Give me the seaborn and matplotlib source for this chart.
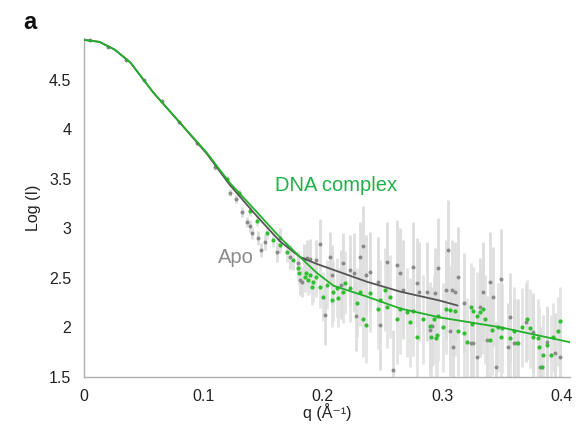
import numpy as np
import pandas as pd
import seaborn as sns
import matplotlib
matplotlib.use("Agg")
import matplotlib.pyplot as plt
from matplotlib.ticker import MultipleLocator, FormatStrFormatter

# smooth fit curves
apo_fit_q = [0.0, 0.013, 0.026, 0.039, 0.058, 0.080, 0.103, 0.122, 0.142, 0.164, 0.181,
             0.195, 0.209, 0.237, 0.265, 0.298, 0.313]
apo_fit_logI = [4.90, 4.88, 4.80, 4.67, 4.37, 4.07, 3.75, 3.44, 3.16, 2.87, 2.71,
                2.64, 2.58, 2.46, 2.36, 2.27, 2.22]

dna_fit_q = [0.0, 0.013, 0.026, 0.039, 0.058, 0.080, 0.103, 0.122, 0.142, 0.164, 0.181,
             0.195, 0.209, 0.237, 0.265, 0.298, 0.349, 0.407]
dna_fit_logI = [4.90, 4.88, 4.80, 4.67, 4.37, 4.07, 3.76, 3.46, 3.20, 2.91, 2.71,
                2.55, 2.42, 2.31, 2.19, 2.10, 2.00, 1.85]

# Apo data points (q, log I, error)
apo_q = [0.005, 0.02, 0.035, 0.05, 0.065, 0.08, 0.095, 0.11, 0.122, 0.127, 0.132, 0.137,
         0.139, 0.141, 0.146, 0.148, 0.152, 0.162, 0.164, 0.173, 0.179, 0.181, 0.183, 0.184,
         0.187, 0.189, 0.194, 0.198, 0.202, 0.206, 0.208, 0.215, 0.217, 0.223, 0.226, 0.228,
         0.231, 0.234, 0.236, 0.240, 0.246, 0.248, 0.254, 0.259, 0.262, 0.265, 0.267, 0.276,
         0.279, 0.281, 0.287, 0.290, 0.292, 0.294, 0.297, 0.303, 0.305, 0.307, 0.308, 0.309,
         0.311, 0.313, 0.318, 0.324, 0.326, 0.329, 0.332, 0.334, 0.338, 0.340, 0.343, 0.345,
         0.349, 0.355, 0.357, 0.360, 0.364, 0.370, 0.376, 0.382, 0.388, 0.395, 0.399]
apo_logI = [4.90, 4.83, 4.70, 4.50, 4.28, 4.07, 3.86, 3.62, 3.36, 3.29, 3.16, 3.06,
            3.02, 2.95, 2.90, 2.78, 2.86, 2.76, 2.90, 2.71, 2.65, 2.48, 2.46, 2.69,
            2.70, 2.69, 2.68, 2.84, 2.12, 2.71, 2.53, 2.43, 2.65, 2.58, 2.55, 2.11,
            2.71, 2.82, 2.53, 2.56, 2.46, 2.02, 2.66, 1.57, 2.63, 2.55, 2.38, 2.61,
            2.45, 2.36, 2.36, 1.97, 2.01, 2.35, 2.60, 2.38, 2.78, 1.96, 2.38, 1.80,
            2.36, 2.51, 2.25, 1.84, 1.84, 1.70, 2.20, 2.36, 1.87, 2.46, 2.31, 1.60,
            2.49, 1.80, 2.10, 1.84, 1.84, 2.05, 1.95, 1.60, 1.85, 1.74, 1.70]
apo_err = [0.01, 0.01, 0.01, 0.01, 0.01, 0.015, 0.02, 0.03, 0.04, 0.04, 0.05, 0.05,
           0.06, 0.06, 0.07, 0.07, 0.08, 0.10, 0.10, 0.12, 0.12, 0.15, 0.15, 0.15,
           0.18, 0.20, 0.20, 0.25, 0.30, 0.25, 0.30, 0.35, 0.30, 0.35, 0.40, 0.35,
           0.35, 0.40, 0.40, 0.40, 0.45, 0.45, 0.40, 0.40, 0.45, 0.45, 0.50, 0.45,
           0.45, 0.50, 0.50, 0.45, 0.40, 0.45, 0.50, 0.50, 0.50, 0.45, 0.50, 0.45,
           0.50, 0.50, 0.50, 0.45, 0.45, 0.45, 0.50, 0.50, 0.45, 0.50, 0.50, 0.45,
           0.50, 0.45, 0.45, 0.45, 0.45, 0.40, 0.40, 0.40, 0.35, 0.40, 0.35]

# DNA complex data points (q, log I, error)
dna_q = [0.120, 0.130, 0.139, 0.145, 0.153, 0.158, 0.164, 0.170, 0.175, 0.179, 0.180,
         0.185, 0.186, 0.188, 0.189, 0.191, 0.192, 0.194, 0.198, 0.200, 0.204, 0.208,
         0.209, 0.212, 0.213, 0.217, 0.219, 0.223, 0.229, 0.231, 0.234, 0.236, 0.240,
         0.246, 0.248, 0.252, 0.254, 0.256, 0.262, 0.265, 0.271, 0.273, 0.276, 0.279,
         0.284, 0.290, 0.291, 0.293, 0.295, 0.296, 0.297, 0.301, 0.303, 0.307, 0.311,
         0.313, 0.318, 0.321, 0.324, 0.325, 0.326, 0.329, 0.332, 0.334, 0.336, 0.340,
         0.342, 0.347, 0.349, 0.350, 0.357, 0.360, 0.363, 0.367, 0.371, 0.374, 0.376,
         0.380, 0.381, 0.384, 0.385, 0.388, 0.391, 0.393, 0.397, 0.399]
dna_logI = [3.50, 3.36, 3.17, 3.07, 2.95, 2.88, 2.83, 2.76, 2.68, 2.60, 2.55,
            2.51, 2.55, 2.48, 2.53, 2.41, 2.46, 2.51, 2.41, 2.31, 2.43, 2.28,
            2.36, 2.40, 2.30, 2.36, 2.45, 2.40, 2.25, 2.36, 2.08, 2.02, 2.35,
            2.18, 2.28, 2.38, 2.21, 2.31, 2.08, 2.18, 2.15, 2.05, 2.16, 1.90,
            2.08, 2.01, 1.90, 2.08, 1.89, 1.92, 2.11, 2.00, 2.18, 2.17, 2.16,
            1.96, 1.94, 1.85, 2.20, 2.03, 2.16, 2.11, 2.15, 2.18, 2.08, 1.87,
            1.97, 2.00, 1.90, 1.99, 1.89, 1.96, 1.84, 2.00, 2.08, 1.99, 1.90,
            1.89, 1.80, 1.60, 1.72, 1.82, 1.72, 1.90, 1.96, 2.06]
dna_err = [0.03, 0.04, 0.05, 0.05, 0.06, 0.07, 0.08, 0.10, 0.10, 0.12, 0.12,
           0.15, 0.15, 0.15, 0.18, 0.18, 0.20, 0.20, 0.22, 0.25, 0.25, 0.28,
           0.30, 0.30, 0.30, 0.32, 0.32, 0.35, 0.35, 0.35, 0.38, 0.38, 0.40,
           0.40, 0.40, 0.42, 0.42, 0.42, 0.45, 0.45, 0.45, 0.45, 0.45, 0.45,
           0.45, 0.45, 0.45, 0.45, 0.45, 0.45, 0.45, 0.45, 0.45, 0.45, 0.45,
           0.45, 0.45, 0.45, 0.45, 0.45, 0.45, 0.45, 0.45, 0.45, 0.45, 0.45,
           0.45, 0.45, 0.45, 0.45, 0.45, 0.45, 0.45, 0.40, 0.40, 0.40, 0.40,
           0.40, 0.40, 0.40, 0.40, 0.40, 0.40, 0.35, 0.35, 0.35]

apo = pd.DataFrame({"q": apo_q, "logI": apo_logI, "err": apo_err})
dna = pd.DataFrame({"q": dna_q, "logI": dna_logI, "err": dna_err})
apo_fit = pd.DataFrame({"q": apo_fit_q, "logI": apo_fit_logI})
dna_fit = pd.DataFrame({"q": dna_fit_q, "logI": dna_fit_logI})

sns.set_theme(style="white")
plt.rcParams['font.family'] = ['Liberation Sans', 'DejaVu Sans']

fig = plt.figure(figsize=(5.79, 4.46), dpi=100)
ax = fig.add_axes([0.145, 0.155, 0.839, 0.76])

# light grey error bars
ax.vlines(dna["q"], dna["logI"] - dna["err"], dna["logI"] + dna["err"],
          color="#e4e4e4", linewidth=2.0, zorder=1)
ax.vlines(apo["q"], apo["logI"] - apo["err"], apo["logI"] + apo["err"],
          color="#dedede", linewidth=2.0, zorder=1)

sns.scatterplot(data=apo, x="q", y="logI", color="#8a8a8a", s=8, linewidth=0,
                ax=ax, zorder=3)
sns.scatterplot(data=dna, x="q", y="logI", color="#2fbf2f", s=9, linewidth=0,
                ax=ax, zorder=4)
sns.lineplot(data=apo_fit, x="q", y="logI", color="#555555", linewidth=1.3,
             ax=ax, zorder=5)
sns.lineplot(data=dna_fit, x="q", y="logI", color="#22b02a", linewidth=1.3,
             ax=ax, zorder=6)

ax.set_xlim(0, 0.407)
ax.set_ylim(1.5, 4.92)
ax.xaxis.set_major_locator(MultipleLocator(0.1))
ax.xaxis.set_minor_locator(MultipleLocator(0.02))
ax.yaxis.set_major_locator(MultipleLocator(0.5))
ax.yaxis.set_minor_locator(MultipleLocator(0.1))
ax.xaxis.set_major_formatter(FormatStrFormatter('%g'))
ax.yaxis.set_major_formatter(FormatStrFormatter('%g'))
ax.tick_params(axis="both", which="both", direction="in", colors="#bbbbbb",
               labelcolor="#222222", labelsize=11.5)
ax.tick_params(which="major", length=3, pad=9)
ax.tick_params(which="minor", length=2)

for side in ["top", "right"]:
    ax.spines[side].set_visible(False)
for side in ["left", "bottom"]:
    ax.spines[side].set_color("#b0b0b0")
    ax.spines[side].set_linewidth(1.0)

ax.set_xlabel("q (Å⁻¹)", fontsize=11.5, color="#222222", labelpad=-1)
ax.set_ylabel("Log (I)", fontsize=11.5, color="#222222", labelpad=6)

ax.text(0.160, 3.38, "DNA complex", color="#22b04a", fontsize=14.5)
ax.text(0.112, 2.65, "Apo", color="#8c8c8c", fontsize=14.5)
fig.text(0.04, 0.935, "a", fontsize=17, fontweight="bold", color="#111111")

plt.savefig("out.png", dpi=100)
